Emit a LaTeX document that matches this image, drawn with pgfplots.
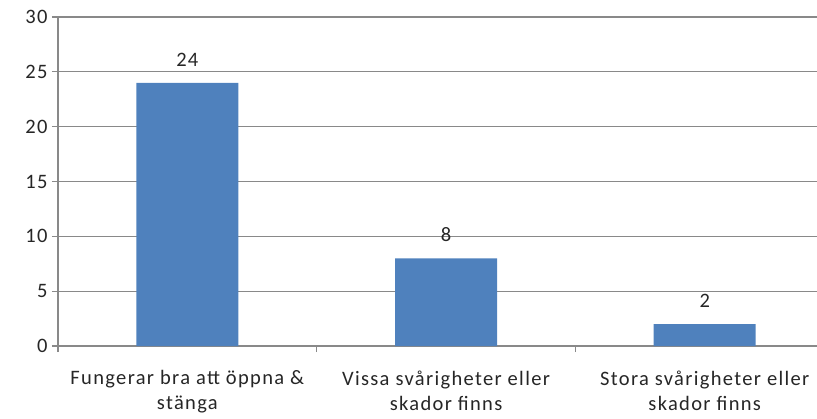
\documentclass[border=0pt]{standalone}
\usepackage{pgfplots}
\pgfplotsset{compat=1.18}
\usepackage{fontspec}
\setmainfont{Carlito}[LetterSpace=6.5]
\definecolor{barblue}{HTML}{4F81BD}
\definecolor{gridgray}{HTML}{898989}
\begin{document}
\begin{tikzpicture}
\begin{axis}[
  scale only axis,
  width=759pt, height=329pt,
  xmin=-0.5, xmax=2.434,
  ymin=0, ymax=30,
  ytick={0,5,...,30},
  xtick={0,1,2},
  xticklabels={{Fungerar bra att öppna \&\\stänga}, {Vissa svårigheter eller\\skador finns}, {Stora svårigheter eller\\skador finns}},
  minor xtick={-0.5,0.5,1.5},
  axis lines*=left,
  axis line style={gridgray, line width=1.3pt},
  ymajorgrids,
  grid style={gridgray, line width=1.3pt},
  major x tick style={draw=none},
  minor x tick style={gridgray, line width=1.3pt},
  major y tick style={gridgray, line width=1.3pt},
  tick align=outside,
  major tick length=6pt,
  minor tick length=6pt,
  /pgf/number format/assume math mode=true,
  ticklabel style={font=\fontsize{20.5}{25}\selectfont, text=black!85},
  y tick label style={xshift=-1pt},
  x tick label style={align=center, yshift=-15pt},
  ybar, bar width=102pt,
  nodes near coords,
  every node near coord/.append style={font=\fontsize{20.5}{25}\selectfont, text=black!85, yshift=13pt},
  clip=false,
]
\addplot[fill=barblue, draw=none] coordinates {(0,24) (1,8) (2,2)};
\end{axis}
\pgfresetboundingbox
\useasboundingbox ([xshift=-58pt,yshift=-72pt]current axis.south west) rectangle ([yshift=17pt]current axis.north east);
\end{tikzpicture}
\end{document}
